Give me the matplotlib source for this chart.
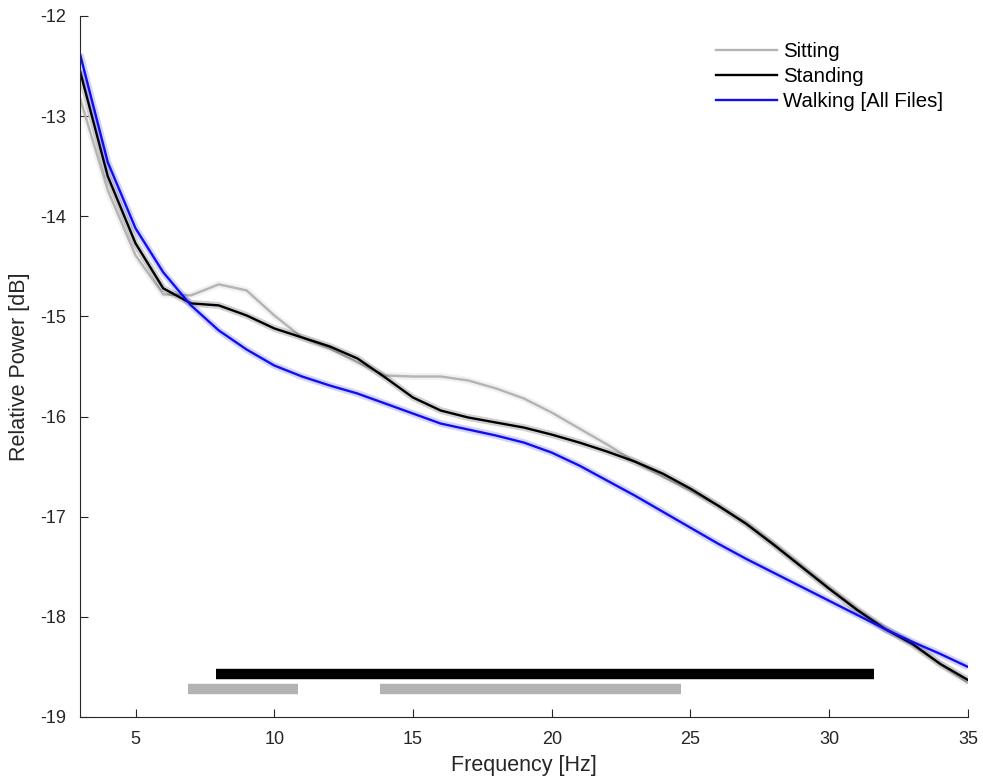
import matplotlib
matplotlib.use("Agg")
import matplotlib.pyplot as plt
import numpy as np

plt.rcParams['font.family'] = ['Liberation Sans', 'DejaVu Sans']

freq = list(range(3, 36))

sitting = [-12.82, -13.74, -14.39, -14.78, -14.79, -14.68, -14.74, -14.99, -15.21, -15.32,
           -15.46, -15.59, -15.60, -15.60, -15.64, -15.72, -15.82, -15.96, -16.12, -16.28,
           -16.45, -16.60, -16.74, -16.89, -17.06, -17.27, -17.49, -17.71, -17.92, -18.11,
           -18.28, -18.47, -18.66]
standing = [-12.55, -13.60, -14.27, -14.72, -14.87, -14.89, -14.99, -15.12, -15.21, -15.30,
            -15.42, -15.61, -15.81, -15.94, -16.01, -16.06, -16.11, -16.18, -16.26, -16.35,
            -16.45, -16.57, -16.72, -16.89, -17.07, -17.28, -17.50, -17.72, -17.93, -18.12,
            -18.27, -18.47, -18.63]
walking = [-12.38, -13.46, -14.12, -14.56, -14.89, -15.14, -15.33, -15.49, -15.60, -15.69,
           -15.77, -15.87, -15.97, -16.07, -16.13, -16.19, -16.26, -16.36, -16.49, -16.64,
           -16.79, -16.95, -17.11, -17.27, -17.42, -17.56, -17.70, -17.84, -17.98, -18.12,
           -18.25, -18.37, -18.50]

labels = ["Sitting", "Standing", "Walking [All Files]"]
colors = ["#b4b4b4", "#000000", "#1010ee"]

# significance bars: (start Hz, end Hz, level dB)
sig_standing = [(7.9, 31.6, -18.57)]
sig_sitting = [(6.9, 10.85, -18.72), (13.8, 24.65, -18.72)]

fig = plt.figure(figsize=(9.83, 7.83), dpi=100)
ax = fig.add_axes([0.0814, 0.0843, 0.9033, 0.8953])

for y, c, lab in zip([sitting, standing, walking], colors, labels):
    ax.plot(freq, y, color=c, lw=5, alpha=0.18, solid_capstyle='butt')
    ax.plot(freq, y, color=c, lw=1.7, label=lab)

for s, e, lvl in sig_standing:
    ax.plot([s, e], [lvl, lvl], color='black', lw=7.5, solid_capstyle='butt')
for s, e, lvl in sig_sitting:
    ax.plot([s, e], [lvl, lvl], color='#b3b3b3', lw=7.5, solid_capstyle='butt')

ax.set_xlim(3, 35)
ax.set_ylim(-19, -12)
ax.set_xticks([5, 10, 15, 20, 25, 30, 35])
ax.set_yticks(list(range(-19, -11)))
ax.set_yticklabels([str(v).replace('\u2212', '-') for v in range(-19, -11)])
ax.tick_params(direction='in', length=6, width=0.8, labelsize=13, colors='#262626', pad=10)
for sp in ['top', 'right']:
    ax.spines[sp].set_visible(False)
for sp in ['left', 'bottom']:
    ax.spines[sp].set_color('#262626')
    ax.spines[sp].set_linewidth(0.8)

ax.set_xlabel("Frequency [Hz]", fontsize=15.5, color='#262626', labelpad=5)
ax.set_ylabel("Relative Power [dB]", fontsize=15.5, color='#262626', labelpad=7)

leg = ax.legend(loc='upper right', frameon=False, fontsize=14.7, handlelength=3.0,
                handletextpad=0.3, labelspacing=0.3, bbox_to_anchor=(0.993, 0.989))

fig.savefig("out.png", dpi=100)
